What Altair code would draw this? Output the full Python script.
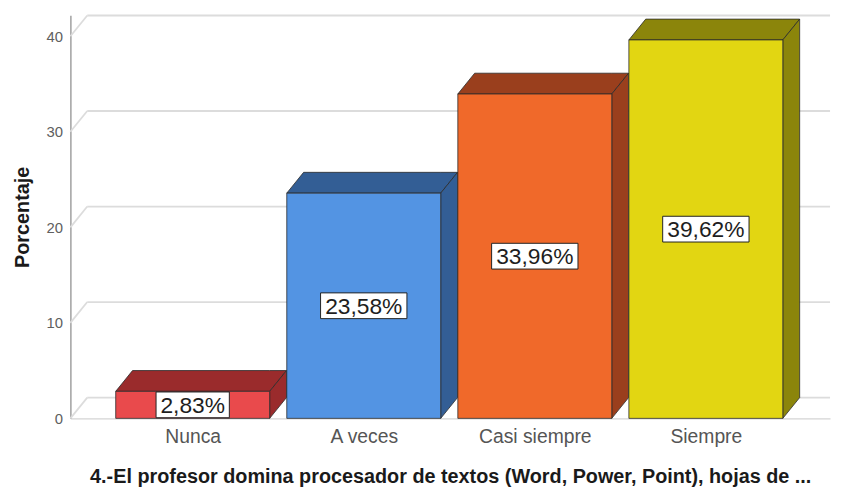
import json
import altair as alt
import pandas as pd

# ---- data ----
categories = ["Nunca", "A veces", "Casi siempre", "Siempre"]
percentages = [2.83, 23.58, 33.96, 39.62]
y_ticks = [0, 10, 20, 30, 40]
x_title = "4.-El profesor domina procesador de textos (Word, Power, Point), hojas de ..."
y_title = "Porcentaje"

# ---- style ----
front_colors = ["#E94A4C", "#5394E3", "#F0692A", "#E2D612"]
dark_colors = ["#9A2B2C", "#335E95", "#9A3F1D", "#8B850B"]
edge = "#2a2a2a"
grid_color = "#dcdcdc"

W, H = 767, 407
X_MIN, X_MAX = -0.715, 3.726
Y_MAX = 42.2
PX_X = W / (X_MAX - X_MIN)
PX_Y = H / Y_MAX
HALF = 0.45            # half bar width, category units
DX = 17 / PX_X         # 3D depth (x), data units
DY = 21 / PX_Y         # 3D depth (y), data units

labels = [f"{v:.2f}".replace(".", ",") + "%" for v in percentages]

bars = pd.DataFrame({
    "cat": categories,
    "idx": list(range(len(categories))),
    "val": percentages,
    "label": labels,
})
bars["xl"] = bars["idx"] - HALF
bars["xr"] = bars["idx"] + HALF
bars["zero"] = 0.0
bars["mid"] = bars["val"] / 2

top_rows, side_rows = [], []
for i, (c, v) in enumerate(zip(categories, percentages)):
    xl, xr = i - HALF, i + HALF
    for x, y, y2 in [(xl, v, v), (xl + DX, v + DY, v), (xr, v + DY, v), (xr + DX, v + DY, v + DY)]:
        top_rows.append({"cat": c, "x": x, "y": y, "y2": y2})
    for x, y, y2 in [(xr, v, 0.0), (xr + DX, v + DY, DY)]:
        side_rows.append({"cat": c, "x": x, "y": y, "y2": y2})
top_df = pd.DataFrame(top_rows)
side_df = pd.DataFrame(side_rows)

grid_df = pd.DataFrame({"v": y_ticks})
grid_df["vb"] = grid_df["v"] + DY
grid_df["x0"] = X_MIN
grid_df["x1"] = X_MIN + DX
grid_df["x2"] = X_MAX

xscale = alt.Scale(domain=[X_MIN, X_MAX], nice=False, zero=False)
yscale = alt.Scale(domain=[0, Y_MAX], nice=False, zero=True)

label_expr = json.dumps(categories) + "[datum.value]"

x_axis = alt.Axis(values=list(range(len(categories))), labelExpr=label_expr, ticks=False,
                  grid=False, domainColor="#d4d4d4", domainWidth=1.5, labelFontSize=19.5,
                  labelColor="#555555", labelPadding=9, labelOverlap=False, labelFlush=False,
                  labelFont="Liberation Sans", title=x_title, titleFont="Liberation Sans",
                  titleFontSize=20, titleFontWeight="bold", titleColor="#1a1a1a", titlePadding=21)
y_axis = alt.Axis(values=y_ticks, ticks=False, grid=False, domainColor="#a0a0a0", domainWidth=1.5,
                  labelFontSize=15, labelColor="#606060", labelPadding=8, labelFont="Liberation Sans",
                  title=y_title, titleFont="Liberation Sans", titleFontSize=20, titleFontWeight="bold",
                  titleColor="#1a1a1a", titlePadding=14)


def X(f):
    return alt.X(f, type="quantitative", scale=xscale, axis=x_axis)


def Y(f):
    return alt.Y(f, type="quantitative", scale=yscale, axis=y_axis)


diag = alt.Chart(grid_df).mark_rule(color=grid_color, strokeWidth=1.8).encode(
    x=X("x0"), x2="x1", y=Y("v"), y2="vb")
back = alt.Chart(grid_df).mark_rule(color=grid_color, strokeWidth=1.8).encode(
    x=X("x1"), x2="x2", y=Y("vb"))

dark_scale = alt.Scale(domain=categories, range=dark_colors)
top = alt.Chart(top_df).mark_area(stroke=edge, strokeWidth=0.8, opacity=1).encode(
    x=X("x"), y=Y("y"), y2="y2",
    color=alt.Color("cat:N", scale=dark_scale, legend=None), detail="cat:N")
side = alt.Chart(side_df).mark_area(stroke=edge, strokeWidth=0.8, opacity=1).encode(
    x=X("x"), y=Y("y"), y2="y2",
    color=alt.Color("cat:N", scale=dark_scale, legend=None), detail="cat:N")
front = alt.Chart(bars).mark_rect(stroke=edge, strokeWidth=0.8).encode(
    x=X("xl"), x2="xr", y=Y("zero"), y2="val",
    fill=alt.Fill("cat:N", scale=alt.Scale(domain=categories, range=front_colors), legend=None))

box = alt.Chart(bars).transform_calculate(
    hw=f"(length(datum.label) * 13.2 + 8) / 2 / {PX_X}",
    hh=f"13 / {PX_Y}",
).transform_calculate(
    bx0="datum.idx - datum.hw", bx1="datum.idx + datum.hw",
    by0="datum.mid - datum.hh", by1="datum.mid + datum.hh",
).mark_rect(fill="white", stroke="#222222", strokeWidth=1).encode(
    x=X("bx0:Q"), x2="bx1:Q", y=Y("by0:Q"), y2="by1:Q")
text = alt.Chart(bars).mark_text(font="Liberation Sans", fontSize=23, color="#1e1e1e",
                                 baseline="middle", align="center", dy=1).encode(
    x=X("idx"), y=Y("mid"), text="label:N")

chart = alt.layer(diag, back, top, side, front, box, text).resolve_scale(
    color="independent", fill="independent"
).properties(
    width=W, height=H,
    autosize=alt.AutoSizeParams(type="none"),
    padding={"left": 63, "top": 5, "right": 4, "bottom": 73},
    background="white",
).configure_view(stroke=None)

chart.save("out.html", embed_options={"renderer": "svg", "actions": False})
